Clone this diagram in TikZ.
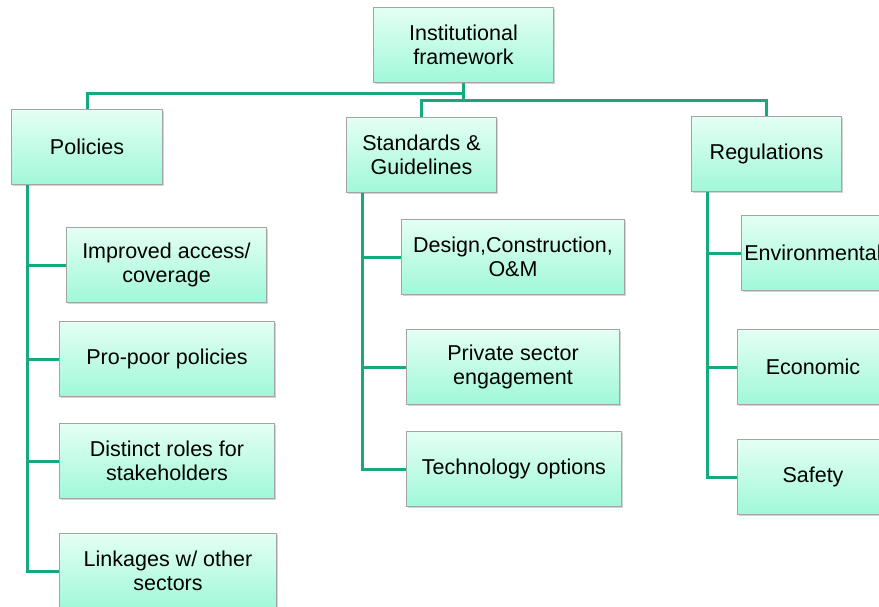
\documentclass[tikz,border=0pt]{standalone}
\usepackage{fontspec}
\setmainfont{Liberation Sans}
\usetikzlibrary{positioning, shadows}
\definecolor{mintTop}{HTML}{E4FFF4}
\definecolor{mintBot}{HTML}{A0F8D9}
\definecolor{rim}{HTML}{A4A4A4}
\definecolor{tree}{HTML}{16A97D}
\tikzset{%
	box/.style={draw=rim, line width=1pt, rectangle, anchor=north west,%
		top color=mintTop, bottom color=mintBot, minimum height=75pt,%
		inner sep=0pt, align=center, font=\fontsize{21.5}{24}\selectfont,%
		drop shadow={opacity=0.35, shadow xshift=1.5pt, shadow yshift=-1.5pt}},
	connector/.style={draw=tree, line width=3pt}
}

\begin{document}
\begin{tikzpicture}[x=1pt, y=-1pt]
	\useasboundingbox (0,0) rectangle (879,607);
	\clip (0,0) rectangle (879,607);

	% top of the tree
	\node[box, minimum width=180pt] (inst) at (373,7) {Institutional\\framework};

	% three main branches
	\node[box, minimum width=151pt] (pol) at (11,109) {Policies};
	\node[box, minimum width=150pt] (std) at (346,117) {Standards \&\\Guidelines};
	\node[box, minimum width=150pt] (reg) at (691,116) {Regulations};

	% policies
	\node[box, minimum width=200pt] (acc) at (66,227) {Improved access/\\coverage};
	\node[box, minimum width=215pt] (poor) at (59,321) {Pro-poor policies};
	\node[box, minimum width=215pt] (roles) at (59,423) {Distinct roles for\\stakeholders};
	\node[box, minimum width=217pt] (links) at (59,533) {Linkages w/ other\\sectors};

	% standards
	\node[box, minimum width=223pt] (design) at (401,219) {Design,Construction,\\O\&M};
	\node[box, minimum width=213pt] (priv) at (406,329) {Private sector\\engagement};
	\node[box, minimum width=215pt] (tech) at (406,431) {Technology options};

	% regulations
	\node[box, minimum width=143pt] (env) at (741,215) {Environmental};
	\node[box, minimum width=151pt] (econ) at (737,329) {Economic};
	\node[box, minimum width=151pt] (safe) at (737,439) {Safety};

	\draw[connector] (inst.south) -- ++(0,11) -| (pol.north);
	\draw[connector] (inst.south) -- ++(0,18) coordinate (fork);
	\draw[connector] (std.north) |- (fork) -| (reg.north);

	\foreach \c in {acc, poor, roles, links}
		\draw[connector] ([xshift=16pt]pol.south west) |- (\c.west);
	\foreach \c in {design, priv, tech}
		\draw[connector] ([xshift=16pt]std.south west) |- (\c.west);
	\foreach \c in {env, econ, safe}
		\draw[connector] ([xshift=16pt]reg.south west) |- (\c.west);
\end{tikzpicture}
\end{document}
